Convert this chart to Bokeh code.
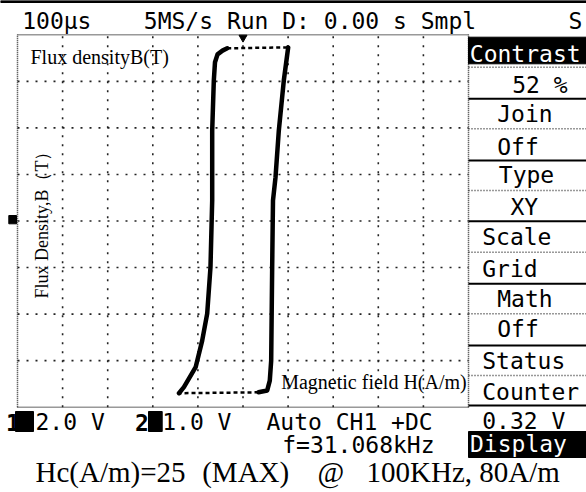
import math
from bokeh.plotting import figure
from bokeh.models import Range1d
from bokeh.core.properties import value
from bokeh.embed import file_html
from bokeh.resources import INLINE

# ---------------- data ----------------
# B-H loop, in graticule divisions
# (X: CH1 -> H at 2.0 V/div, Y: CH2 -> B at 1.0 V/div)
desc_H = [-1.42, -1.31, -1.05, -0.905, -0.794, -0.721, -0.683, -0.683, -0.647, -0.621, -0.565, -0.455, -0.350]
desc_B = [-3.70, -3.57, -3.14, -2.57, -1.99, -0.99, 0.44, 1.94, 3.02, 3.41, 3.58, 3.66, 3.71]
asc_H = [1.002, 0.905, 0.794, 0.721, 0.665, 0.647, 0.625, 0.594, 0.537, 0.344]
asc_B = [3.73, 3.02, 1.94, 0.94, 0.44, -0.99, -3.00, -3.43, -3.64, -3.68]

x_div_ticks = [-5, -4, -3, -2, -1, 0, 1, 2, 3, 4, 5]
y_div_ticks = [-4, -3, -2, -1, 0, 1, 2, 3, 4]

header_texts = ["100μs", "5MS/s Run D: 0.00 s Smpl", "S"]
menu_labels = ["Contrast", "52 %", "Join", "Off", "Type", "XY", "Scale", "Grid",
               "Math", "Off", "Status", "Counter", "0.32 V", "Display"]
channel_ids = ["1", "2"]
channel_scales = ["2.0 V", "1.0 V"]
trigger_text = "Auto CH1 +DC"
freq_text = "f=31.068kHz"
b_title = "Flux densityB(T)"
y_label = "Flux Density,B（T）"
x_label = "Magnetic field H(A/m)"
caption_parts = ["Hc(A/m)=25", "(MAX)", "@", "100KHz, 80A/m"]

# ---------------- layout ----------------
W, H = 586, 492
OFF = 0
CX, CY = 242.5, 220.5      # screen centre (page px)
DX, DY = 45.1, 46.55       # px per division
BASE_K = 0.35              # baseline correction (fraction of font size)


def X(px):
    return (px - CX) / DX


def Y(py):
    return (CY - py) / DY


p = figure(width=W, height=H,
           x_range=Range1d(X(OFF), X(OFF + W)),
           y_range=Range1d(Y(OFF + H), Y(OFF)),
           x_axis_location=None, y_axis_location=None,
           toolbar_location=None, output_backend="svg",
           min_border=0, outline_line_color=None,
           background_fill_color="white", border_fill_color="white")
p.grid.visible = False

MONO = "DejaVu Sans Mono"
SERIF = "Liberation Serif"


def txt(s, px, py, size, font, color="black", align="left", baseline="alphabetic", angle=0.0, style="normal"):
    if baseline == "alphabetic":
        py = py - BASE_K * size
    p.text(x=[X(px)], y=[Y(py)], text=[s], text_font=value(font),
           text_font_size=f"{size}px", text_color=color, text_align=align,
           text_baseline=baseline, angle=angle, text_font_style=style)


# top bar
p.quad(left=[X(0)], right=[X(586)], top=[Y(0)], bottom=[Y(2)], color="black")

# graticule: inner dotted lines
xl, xr = x_div_ticks[0], x_div_ticks[-1]
yb, yt = y_div_ticks[0], y_div_ticks[-1]
ix = x_div_ticks[1:-1]
iy = y_div_ticks[1:-1]
p.segment(x0=ix, y0=[yb] * len(ix), x1=ix, y1=[yt] * len(ix),
          line_color="#222222", line_width=1.6, line_dash="2 7")
p.segment(x0=[xl] * len(iy), y0=iy, x1=[xr] * len(iy), y1=iy,
          line_color="#222222", line_width=1.6, line_dash="2 7")
# border
p.segment(x0=[xl, xl, xl, xr], y0=[yb, yt, yb, yb], x1=[xr, xr, xl, xr], y1=[yb, yt, yt, yt],
          line_color="#333333", line_width=1.5, line_dash="1 1")
# trigger marker
p.scatter(x=[0], y=[Y(37)], marker="inverted_triangle", size=8, color="black")
# channel ground marker
p.quad(left=[X(8.3)], right=[X(16)], top=[Y(215)], bottom=[Y(223.3)], color="black")

# loop
p.line(desc_H, desc_B, line_color="black", line_width=4.5, line_join="round", line_cap="round")
p.line(asc_H, asc_B, line_color="black", line_width=4.5, line_join="round", line_cap="round")
p.line([desc_H[-1], asc_H[0]], [desc_B[-1], asc_B[0]], line_color="black", line_width=2.5, line_dash="4 3")
p.line([asc_H[-1], desc_H[0]], [asc_B[-1], desc_B[0]], line_color="black", line_width=2.5, line_dash="4 3")

# header
txt(header_texts[0], 21.7, 28.3, 23, MONO)
txt(header_texts[1], 143.3, 28.3, 23, MONO)
txt(header_texts[2], 568, 28.3, 23, MONO)

# right menu
ML, MR = 468, 590
p.quad(left=[X(ML)], right=[X(MR)], top=[Y(36.7)], bottom=[Y(63.3)], color="black")
p.quad(left=[X(ML)], right=[X(MR)], top=[Y(431)], bottom=[Y(457)], color="black")
solid_y = [98.3, 160, 220.7, 283.3, 345, 405]
dotted_y = [66.7, 128.3, 190, 251.7, 313.3, 375]
p.segment(x0=[X(ML)] * len(solid_y), y0=[Y(v) for v in solid_y],
          x1=[X(MR)] * len(solid_y), y1=[Y(v) for v in solid_y],
          line_color="black", line_width=2)
p.segment(x0=[X(ML)] * len(dotted_y), y0=[Y(v) for v in dotted_y],
          x1=[X(MR)] * len(dotted_y), y1=[Y(v) for v in dotted_y],
          line_color="#333333", line_width=1.5, line_dash="1 2")
menu_x = [469.3, 511.7, 496.7, 496.7, 498.3, 510, 481.7, 481.7, 496.7, 496.7, 481.7, 481.7, 481.7, 469.5]
menu_base = [61.5, 93, 122, 155, 183, 215, 245, 276.7, 306.7, 336.7, 368.3, 400, 428.3, 452]
for i, lab in enumerate(menu_labels):
    col = "white" if i in (0, len(menu_labels) - 1) else "black"
    txt(lab, menu_x[i], menu_base[i], 23, MONO, color=col)

# bottom status line
p.quad(left=[X(15)], right=[X(33)], top=[Y(411)], bottom=[Y(431)], color="black")
p.quad(left=[X(148)], right=[X(161.7)], top=[Y(411)], bottom=[Y(431)], color="black")
txt(channel_ids[0], 5.5, 430, 23, MONO, style="bold")
txt(channel_ids[1], 134.5, 430, 23, MONO, style="bold")
txt(channel_scales[0], 35, 430, 23, MONO)
txt(channel_scales[1], 161.7, 430, 23, MONO)
txt(trigger_text, 266, 430, 23, MONO)
txt(freq_text, 281.7, 453, 23, MONO)

# annotations (serif)
txt(b_title, 30, 63.3, 20, SERIF)
txt(y_label, 41.5, 220, 18, SERIF, align="center", baseline="middle", angle=math.pi / 2)
txt(x_label, 280.7, 388.3, 20, SERIF)
cap_x = [35, 201.7, 317, 366]
for s, cx in zip(caption_parts, cap_x):
    txt(s, cx, 482, 29, SERIF)

open("out.html", "w").write(file_html(p, INLINE))
